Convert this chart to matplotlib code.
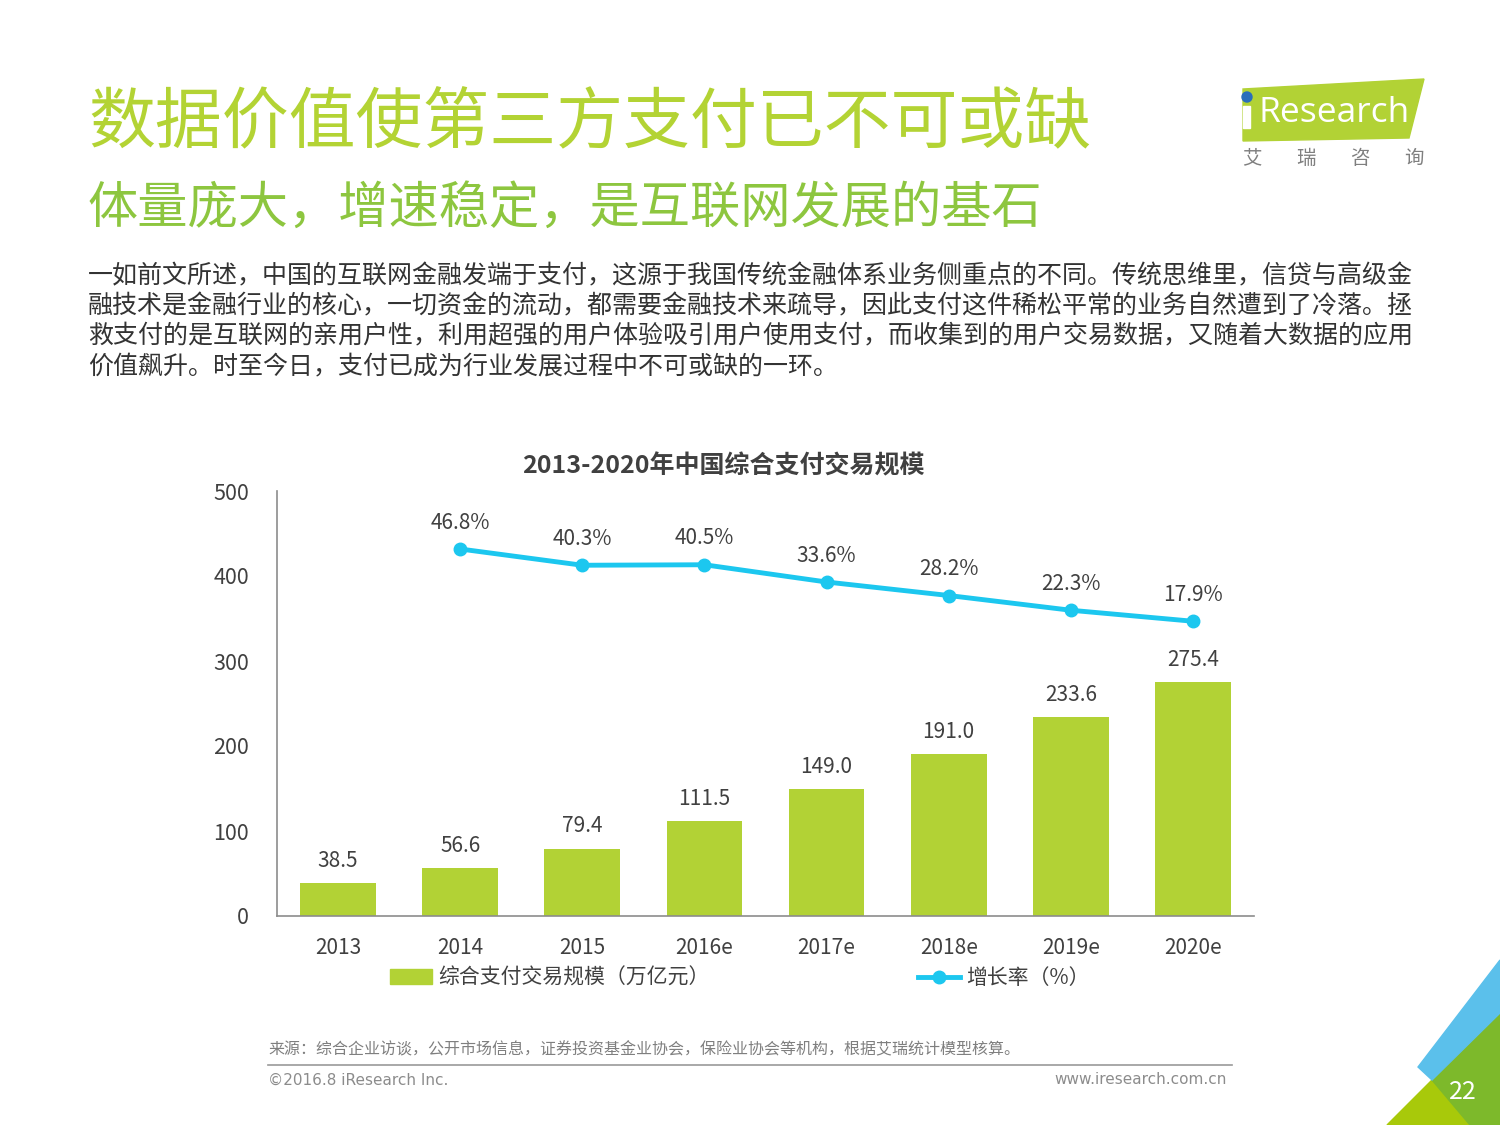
import matplotlib.pyplot as plt
from matplotlib.patches import Polygon, Circle
from matplotlib.lines import Line2D
from matplotlib.patches import Patch

plt.rcParams['font.family'] = ['Noto Sans CJK SC', 'DejaVu Sans']

# data
years = ['2013', '2014', '2015', '2016e', '2017e', '2018e', '2019e', '2020e']
scale = [38.5, 56.6, 79.4, 111.5, 149.0, 191.0, 233.6, 275.4]
growth_years = ['2014', '2015', '2016e', '2017e', '2018e', '2019e', '2020e']
growth = [46.8, 40.3, 40.5, 33.6, 28.2, 22.3, 17.9]
y_ticks = [0, 100, 200, 300, 400, 500]

W, H = 1500, 1125
GREEN = '#B2D235'
BLUE = '#1CC7EF'
TXT = '#404040'


def px(x, y):
    return x / W, 1 - y / H


fig = plt.figure(figsize=(15, 11.25), dpi=100)

# ---------------- header ----------------
fig.text(*px(88, 125), '数据价值使第三方支付已不可或缺', fontsize=48.2, color='#B3D334', va='center')
fig.text(*px(88, 209), '体量庞大，增速稳定，是互联网发展的基石', fontsize=36.2, color='#8DC63F', va='center')

body = ['一如前文所述，中国的互联网金融发端于支付，这源于我国传统金融体系业务侧重点的不同。传统思维里，信贷与高级金',
        '融技术是金融行业的核心，一切资金的流动，都需要金融技术来疏导，因此支付这件稀松平常的业务自然遭到了冷落。拯',
        '救支付的是互联网的亲用户性，利用超强的用户体验吸引用户使用支付，而收集到的用户交易数据，又随着大数据的应用',
        '价值飙升。时至今日，支付已成为行业发展过程中不可或缺的一环。']
for i, line in enumerate(body):
    fig.text(*px(88, 276 + 30.3 * i), line, fontsize=18.0, color='#333333', va='center')

# logo
logo = fig.add_axes([0, 0, 1, 1], zorder=-1)
logo.set_xlim(0, W)
logo.set_ylim(H, 0)
logo.axis('off')
logo.add_patch(Polygon([(1243, 89), (1424, 79), (1409, 138), (1243, 141)], closed=True, color=GREEN))
logo.add_patch(Circle((1247, 97), 5, color='#2A6EBB'))
logo.add_patch(Polygon([(1243, 106), (1250, 106), (1250, 128), (1243, 128)], closed=True, color='white'))
logo.text(1259, 113, 'Research', fontsize=25.5, color='white', va='center', ha='left', family='Open Sans')
for i, ch in enumerate('艾瑞咨询'):
    logo.text(1252 + 54 * i, 158, ch, fontsize=14, color='#7f7f7f', ha='center', va='center')

# corner decoration
logo.add_patch(Polygon([(1387, 1125), (1432, 1080), (1500, 1040), (1500, 1125)], closed=True, color='#A8C90A'))
logo.add_patch(Polygon([(1432, 1080), (1500, 1013), (1500, 1125), (1470, 1125)], closed=True, color='#7DB92B'))
logo.add_patch(Polygon([(1500, 960), (1418, 1067), (1432, 1080), (1500, 1013)], closed=True, color='#5BC0EB'))
logo.text(1463, 1092, '22', fontsize=18, color='white', ha='center', va='center')

# ---------------- chart ----------------
ax = fig.add_axes([277 / W, 1 - 916 / H, 977 / W, 425 / H])
x = list(range(len(years)))
ax.bar(x, scale, width=0.62, color=GREEN, zorder=2)
for xi, v in zip(x, scale):
    ax.annotate(f'{v:.1f}', (xi, v), xytext=(0, 8), textcoords='offset points',
                ha='center', va='bottom', fontsize=15, color=TXT)

ax.set_xlim(-0.5, len(years) - 0.5)
ax.set_ylim(0, 500)
ax.set_yticks(y_ticks)
ax.set_xticks(x)
ax.set_xticklabels(years)
ax.tick_params(axis='y', length=0, pad=20, labelsize=15.5, labelcolor=TXT)
ax.tick_params(axis='x', length=0, pad=15, labelsize=15, labelcolor=TXT)
for s in ['top', 'right']:
    ax.spines[s].set_visible(False)
for s in ['left', 'bottom']:
    ax.spines[s].set_color('#8c8c8c')
    ax.spines[s].set_linewidth(1.2)

ax2 = ax.twinx()
gx = [years.index(y) for y in growth_years]
ax2.plot(gx, growth, color=BLUE, lw=3.5, marker='o', ms=9, zorder=3)
for xi, v in zip(gx, growth):
    ax2.annotate(f'{v:.1f}%', (xi, v), xytext=(0, 11), textcoords='offset points',
                 ha='center', va='bottom', fontsize=15, color=TXT)
ax2.set_ylim(-100, 70)
ax2.axis('off')

fig.text(*px(723, 466), '2013-2020年中国综合支付交易规模', fontsize=18, fontweight='bold',
         color=TXT, ha='center', va='center')

handles = [Patch(color=GREEN, label='综合支付交易规模（万亿元）'),
           Line2D([0], [0], color=BLUE, lw=3.5, marker='o', ms=9, label='增长率（%）')]
fig.legend(handles=handles, loc='center', bbox_to_anchor=px(740, 978), ncol=2, frameon=False,
           fontsize=15, labelcolor=TXT, handlelength=2.0, handletextpad=0.3, columnspacing=10)

# ---------------- footer ----------------
fig.text(*px(268, 1050), '来源：综合企业访谈，公开市场信息，证券投资基金业协会，保险业协会等机构，根据艾瑞统计模型核算。',
         fontsize=11.5, color='#7f7f7f', va='center')
logo.plot([268, 1232], [1065, 1065], color='#999999', lw=1.2)
fig.text(*px(268, 1080), '©2016.8 iResearch Inc.', fontsize=11, color='#8c8c8c', va='center', family='Liberation Sans Narrow')
fig.text(*px(1227, 1080), 'www.iresearch.com.cn', fontsize=11, color='#8c8c8c', va='center', ha='right', family='Liberation Sans Narrow')

fig.savefig('out.png', dpi=100)
